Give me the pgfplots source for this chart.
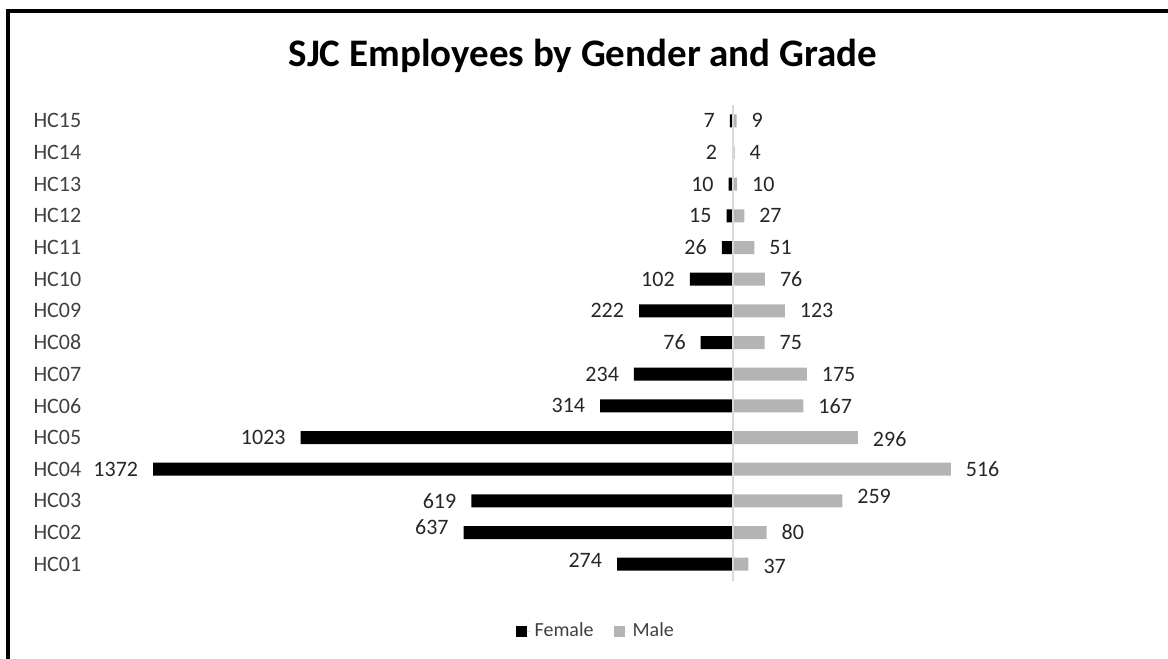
\documentclass[border=0pt]{standalone}
\usepackage{pgfplots}
\pgfplotsset{compat=1.18}
\usepackage{fontspec}
\setmainfont{Carlito}
\definecolor{malegray}{HTML}{B4B4B4}
\definecolor{txt}{HTML}{404040}
\definecolor{zeroline}{HTML}{D9D9D9}

% y: grade position, v: signed count, lab: printed value, dy: label nudge (pt)
\pgfplotstableread{
y v lab dy
1 -274 274 2
2 -637 637 2.5
3 -619 619 0
4 -1372 1372 0
5 -1023 1023 0
6 -314 314 0
7 -234 234 0
8 -76 76 0
9 -222 222 0
10 -102 102 0
11 -26 26 0
12 -15 15 0
13 -10 10 0
14 -2 2 0
15 -7 7 0
}\female
\pgfplotstableread{
y v lab dy
1 37 37 -1
2 80 80 0
3 259 259 2
4 516 516 0
5 296 296 -1
6 167 167 0
7 175 175 0
8 75 75 0
9 123 123 0
10 76 76 0
11 51 51 0
12 27 27 0
13 10 10 0
14 4 4 0
15 9 9 0
}\male

\begin{document}
\begin{tikzpicture}
% 1 px of the reference = 0.5pt, origin at top left
\useasboundingbox (0,0) rectangle (584pt,-329.5pt);
\draw[line width=2pt] (4pt,-340pt) -- (4pt,-5.5pt) -- (600pt,-5.5pt);
\node[font=\bfseries\fontsize{19.5}{22}\selectfont] at (291.5pt,-28pt) {SJC Employees by Gender and Grade};
\begin{axis}[
  at={(37.5pt,-290pt)}, anchor=south west,
  scale only axis,
  width=512.5pt, height=237.5pt,
  xbar, bar width=6.5pt, bar shift=0pt,
  xmin=-1557, xmax=869,
  ymin=0.5, ymax=15.5,
  axis x line=none,
  axis y line*=left,
  y axis line style={draw=none},
  ytick={1,...,15},
  yticklabels={HC01,HC02,HC03,HC04,HC05,HC06,HC07,HC08,HC09,HC10,HC11,HC12,HC13,HC14,HC15},
  ytick style={draw=none},
  yticklabel style={font=\fontsize{11}{13}\selectfont, text=txt, anchor=west, xshift=-20pt},
  point meta=explicit symbolic,
  nodes near coords,
  visualization depends on={\thisrow{dy} \as \dy},
  every node near coord/.append style={font=\fontsize{11}{13}\selectfont, text=black!85, yshift=\dy pt},
  legend style={at={(0.509,-0.108)}, anchor=center, draw=none, legend columns=2,
    font=\fontsize{10}{12}\selectfont, text=txt,
    /tikz/every even column/.append style={column sep=8pt}},
  legend image code/.code={\fill[#1] (0pt,-2.75pt) rectangle (5.5pt,2.75pt);
    \path (0pt,0pt) -- (7.5pt,0pt);},
]
\addplot[fill=black, draw=none, every node near coord/.append style={anchor=east, xshift=-4pt}]
  table[x=v, y=y, meta=lab] {\female};
\addlegendentry{Female}
\addplot[fill=malegray, draw=none, every node near coord/.append style={anchor=west, xshift=4pt}]
  table[x=v, y=y, meta=lab] {\male};
\addlegendentry{Male}
\draw[zeroline, line width=1pt] (axis cs:0,0.45) -- (axis cs:0,15.6);
\end{axis}
\end{tikzpicture}
\end{document}
